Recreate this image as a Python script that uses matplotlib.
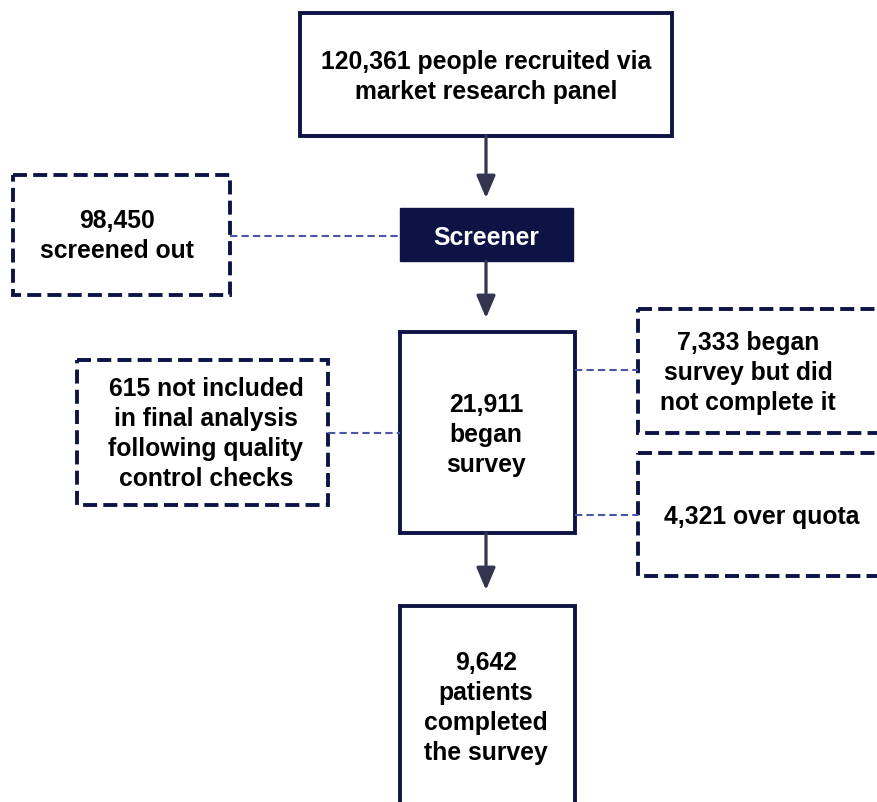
import matplotlib
matplotlib.use("Agg")
import matplotlib.pyplot as plt
from matplotlib.patches import Rectangle, FancyArrowPatch

W, H = 877, 803
fig = plt.figure(figsize=(W / 100, H / 100), dpi=100)
ax = fig.add_axes([0, 0, 1, 1])
ax.set_xlim(0, W)
ax.set_ylim(H, 0)
ax.axis("off")

NAVY = "#0d1445"
ARROW = "#33354f"
LINK = "#4a56a6"
FONT = "Liberation Sans"

# Flow content
recruited = "120,361"
screened_out = "98,450"
began = "21,911"
not_complete = "7,333"
over_quota = "4,321"
excluded = "615"
completed = "9,642"

# boxes: (x0, y0, x1, y1, text, style)
boxes = [
    (300, 14, 672, 137, f"{recruited} people recruited via\nmarket research panel", "solid"),
    (400, 209, 573, 262, "Screener", "filled"),
    (13, 176, 230, 296, f"{screened_out}\nscreened out", "dashed"),
    (400, 333, 575, 534, f"{began}\nbegan\nsurvey", "solid"),
    (77, 361, 328, 506, f"{excluded} not included\nin final analysis\nfollowing quality\ncontrol checks", "dashed"),
    (638, 310, 900, 434, f"{not_complete} began\nsurvey but did\nnot complete it", "dashed"),
    (638, 454, 900, 577, f"{over_quota} over quota", "dashed"),
    (400, 607, 575, 830, f"{completed}\npatients\ncompleted\nthe survey", "solid"),
]

text_pos = {
    0: (486, 77), 1: (486, 238), 2: (117, 236), 3: (486, 435),
    4: (206, 434), 5: (748, 373), 6: (762, 517), 7: (486, 708),
}

for i, (x0, y0, x1, y1, txt, style) in enumerate(boxes):
    if style == "filled":
        r = Rectangle((x0, y0), x1 - x0, y1 - y0, facecolor=NAVY, edgecolor=NAVY, lw=1)
        color = "white"
    elif style == "dashed":
        r = Rectangle((x0, y0), x1 - x0, y1 - y0, facecolor="white", edgecolor=NAVY,
                      lw=2.8, linestyle=(0, (3.6, 1.6)), joinstyle="miter")
        color = "black"
    else:
        r = Rectangle((x0, y0), x1 - x0, y1 - y0, facecolor="white", edgecolor=NAVY,
                      lw=2.8, joinstyle="miter")
        color = "black"
    ax.add_patch(r)
    tx, ty = text_pos[i]
    ax.text(tx, ty, txt, ha="center", va="center", fontsize=17.8, fontweight="bold",
            family=FONT, color=color, linespacing=1.32)

# arrows (x, y_start, y_end)
arrows = [(486, 137, 199), (486, 262, 319), (486, 534, 591)]
for x, ys, ye in arrows:
    ax.add_patch(FancyArrowPatch((x, ys), (x, ye), arrowstyle="-|>,head_length=0.75,head_width=0.32",
                                 mutation_scale=18, color=ARROW, lw=2.3, shrinkA=0, shrinkB=0))

# dashed links (y, x_start, x_end)
links = [(237, 230, 400), (434, 328, 400), (371, 575, 638), (516, 575, 638)]
for y, xs, xe in links:
    ax.plot([xs, xe], [y, y], color=LINK, lw=1.5, linestyle=(0, (3.5, 2)))

fig.savefig("out.png", dpi=100)
